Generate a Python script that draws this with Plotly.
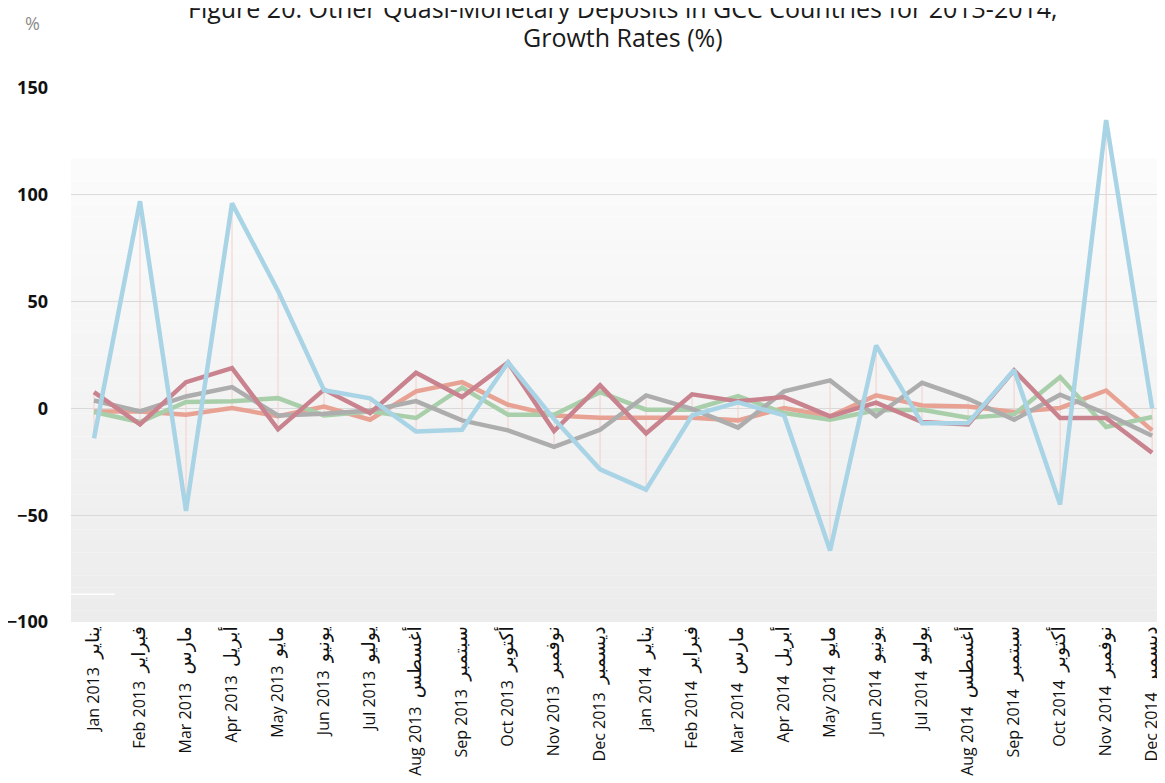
import plotly.graph_objects as go

months_en = ["Jan", "Feb", "Mar", "Apr", "May", "Jun", "Jul", "Aug", "Sep", "Oct", "Nov", "Dec"]
months_ar = ["يناير", "فبراير", "مارس", "أبريل", "مايو", "يونيو", "يوليو", "أغسطس", "سبتمبر", "أكتوبر", "نوفمبر", "ديسمبر"]
years = [2013, 2014]
tick_labels = [f"{m} {y}\u00a0\u00a0<span style=\"font-size:19px\">{a}</span>"
               for y in years for m, a in zip(months_en, months_ar)]

title_lines = ["Figure 20: Other Quasi-Monetary Deposits in GCC Countries for 2013-2014,",
               "Growth Rates (%)"]

salmon = [-1.4, -1.4, -3.0, 0.2, -3.7, 0.9, -5.3, 8.0, 12.3, 1.7, -3.3, -4.4,
          -4.4, -4.4, -5.6, 0.2, -3.7, 6.1, 1.4, 0.9, -1.7, 0.2, 8.4, -10.3]
green = [-1.7, -6.4, 3.0, 3.3, 4.8, -3.3, -1.4, -4.5, 9.7, -3.0, -3.0, 7.6,
         -0.6, -0.6, 5.8, -2.2, -5.3, -0.9, -0.6, -4.4, -2.8, 14.7, -8.7, -4.0]
grey = [3.7, -1.4, 5.6, 10.0, -3.3, -2.5, -1.0, 3.4, -5.6, -10.3, -18.0, -10.0,
        6.1, -0.2, -9.0, 8.0, 13.1, -3.7, 12.0, 4.5, -5.3, 6.4, -2.5, -12.8]
mauve = [7.6, -7.5, 12.3, 18.9, -9.8, 8.8, -2.2, 16.7, 5.3, 21.5, -10.6, 10.8,
         -11.7, 6.6, 3.3, 5.3, -3.7, 2.7, -6.4, -7.5, 17.8, -4.5, -4.5, -20.8]
blue = [-14.0, 97.0, -48.0, 96.0, 55.0, 8.5, 4.7, -10.8, -10.0, 21.5, -5.0, -28.5,
        -38.0, -3.3, 2.8, -3.3, -66.5, 29.5, -7.0, -6.8, 18.0, -45.0, 135.0, 0.0]

series = [
    ("salmon", salmon, "#e8a293"),
    ("green", green, "#a9cfaa"),
    ("grey", grey, "#adadad"),
    ("mauve", mauve, "#c9838f"),
    ("blue", blue, "#a8d4e6"),
]

x = list(range(len(tick_labels)))

fig = go.Figure()

# high-low lines
hx, hy = [], []
for i in x:
    vals = [s[1][i] for s in series]
    hx += [i, i, None]
    hy += [max(vals), min(vals), None]
fig.add_trace(go.Scatter(x=hx, y=hy, mode="lines", line=dict(color="#f3d0cb", width=1),
                         hoverinfo="skip", showlegend=False))

for name, vals, col in series:
    fig.add_trace(go.Scatter(x=x, y=vals, mode="lines", name=name,
                             line=dict(color=col, width=4.5), showlegend=False))

# background gradient in plot area
shapes = []
top, bot = 117, -100
n = 40
for k in range(n):
    y0 = top - (top - bot) * k / n
    y1 = top - (top - bot) * (k + 1) / n
    t = k / (n - 1)
    c = int(round(251 - (251 - 236) * t))
    shapes.append(dict(type="rect", xref="paper", yref="y", x0=0, x1=1, y0=y1, y1=y0,
                       fillcolor=f"rgb({c},{c},{c})", line=dict(width=0), layer="below"))
# small white artifact line
shapes.append(dict(type="line", xref="paper", yref="y", x0=-0.002, x1=0.040, y0=-87, y1=-87,
                   line=dict(color="white", width=1.5), layer="above"))

L, T, B = 63, 80, 161
W, H = 1157, 775
PW, PH = W - L, H - T - B
title_x = (623 - 8 - L) / PW

fig.update_layout(
    width=W, height=H,
    margin=dict(l=L, r=0, t=T, b=B, autoexpand=False),
    paper_bgcolor="white", plot_bgcolor="white",
    shapes=shapes,
    xaxis=dict(tickmode="array", tickvals=x, ticktext=tick_labels, tickangle=-90,
               range=[-0.5, 23.28], showgrid=False, zeroline=False, showline=False,
               ticks="", automargin=False, ticklabeloverflow="allow",
               tickfont=dict(family="Open Sans, DejaVu Sans", size=16, color="#111")),
    yaxis=dict(range=[-100, 150], tickvals=[-100, -50, 0, 50, 100, 150],
               showgrid=True, gridcolor="#d9d9d9", gridwidth=1,
               zeroline=True, zerolinecolor="#d9d9d9", zerolinewidth=1,
               showline=False, ticks="", automargin=False, ticklabelstandoff=22,
               ticklabeloverflow="allow",
               tickfont=dict(family="Open Sans", size=18, color="#111", weight="bold")),
    annotations=[
        dict(text=title_lines[0], xref="paper", yref="paper", x=title_x, y=1 + (T + 0) / PH,
             xanchor="center", yanchor="middle", showarrow=False,
             font=dict(family="Open Sans", size=25, color="#1a1a1a")),
        dict(text=title_lines[1], xref="paper", yref="paper", x=title_x, y=1 + (T - 29) / PH,
             xanchor="center", yanchor="middle", showarrow=False,
             font=dict(family="Open Sans", size=25, color="#1a1a1a")),
        dict(text="%", xref="paper", yref="paper", x=(32 - 8 - L) / PW, y=1 + (T - 15) / PH,
             xanchor="center", yanchor="middle", showarrow=False,
             font=dict(family="Open Sans", size=18, color="#8c8c8c")),
    ],
)

fig.write_html("out.html")
